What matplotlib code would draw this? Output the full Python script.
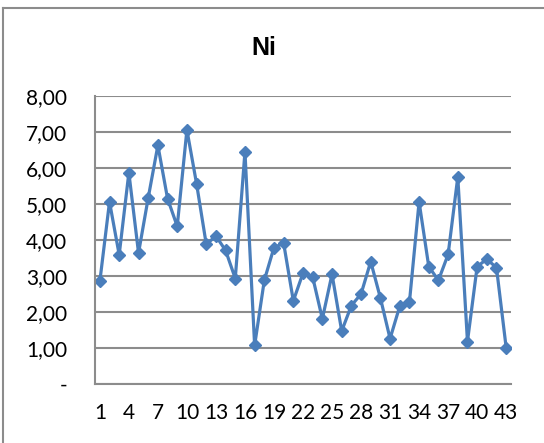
import numpy as np
import matplotlib.pyplot as plt
from matplotlib.lines import Line2D
from matplotlib.ticker import FuncFormatter

# Ni concentration per sample
samples = list(range(1, 44))
ni = [2.85, 5.06, 3.59, 5.87, 3.64, 5.17, 6.63, 5.15, 4.38, 7.06,
      5.56, 3.88, 4.11, 3.71, 2.93, 6.45, 1.07, 2.88, 3.79, 3.91,
      2.31, 3.08, 2.97, 1.81, 3.05, 1.47, 2.18, 2.50, 3.40, 2.39,
      1.26, 2.16, 2.27, 5.06, 3.26, 2.88, 3.60, 5.75, 1.18, 3.26,
      3.47, 3.23, 1.01]
x_ticks = samples[::3]
y_ticks = np.arange(0, 9)

grid_col = '#8c8c8c'
line_col = '#4a7ebb'

fig = plt.figure(figsize=(5.44, 4.43), dpi=100)
ax = fig.add_axes([95 / 544, 1 - 384 / 443, 416 / 544, 288 / 443])

ax.plot(samples, ni, color=line_col, lw=2.3, marker='D', ms=6.5,
        markerfacecolor=line_col, markeredgecolor=line_col)

ax.set_xlim(0.5, 43.5)
ax.set_ylim(0, 8)
ax.set_xticks(x_ticks)
ax.set_yticks(y_ticks)
ax.yaxis.set_major_formatter(FuncFormatter(
    lambda v, _: '-' if v == 0 else f'{v:.2f}'.replace('.', ',')))
ax.grid(axis='y', color=grid_col, lw=1.5)
ax.set_axisbelow(True)
for side in ['top', 'right']:
    ax.spines[side].set_visible(False)
for side in ['left', 'bottom']:
    ax.spines[side].set_color(grid_col)
    ax.spines[side].set_linewidth(1.5)
ax.tick_params(length=0, labelsize=15)
ax.tick_params(axis='x', pad=14)
ax.tick_params(axis='y', pad=20)
for lab in ax.get_xticklabels() + ax.get_yticklabels():
    lab.set_family('Lato')

fig.text(264 / 544, 1 - 48 / 443, 'Ni', ha='center', va='center',
         fontsize=18, fontweight='bold', family='Liberation Sans')

# chart area border (left and top edges)
bx, by = 3 / 544, 1 - 8 / 443
fig.add_artist(Line2D([bx, bx], [0, by], color=grid_col, lw=1.5))
fig.add_artist(Line2D([bx, 1], [by, by], color=grid_col, lw=1.5))

fig.savefig('out.png', dpi=100)
